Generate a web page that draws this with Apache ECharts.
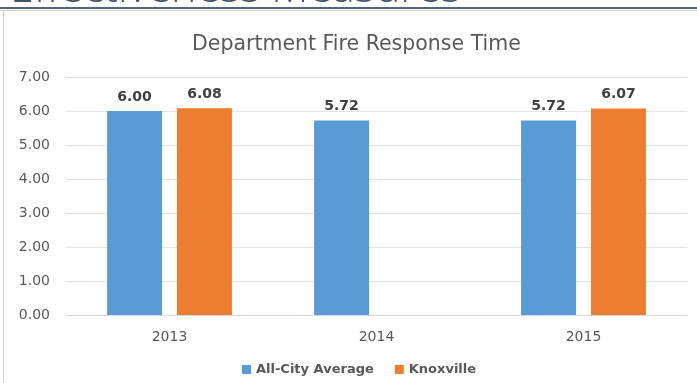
<!DOCTYPE html>
<html>
<head>
<meta charset="utf-8">
<script src="https://cdn.jsdelivr.net/npm/echarts@6/dist/echarts.min.js"></script>
<style>
html,body{margin:0;padding:0;background:#fff;}
#chart{width:697px;height:383px;}
</style>
</head>
<body>
<div id="chart"></div>
<script>
const categories = ['2013', '2014', '2015'];
const allCityAverage = [6.00, 5.72, 5.72];
const knoxville = [6.08, null, 6.07];
const yTicks = { min: 0, max: 7, interval: 1 };
const chartTitle = 'Department Fire Response Time';
const pageHeading = 'Effectiveness Measures';

const FONT = '"DejaVu Sans", sans-serif';
const chart = echarts.init(document.getElementById('chart'), null, { renderer: 'canvas' });

const labelStyle = {
  show: true,
  position: 'top',
  distance: 7,
  fontFamily: FONT,
  fontWeight: 'bold',
  fontSize: 14,
  color: '#404040',
  formatter: p => p.value == null ? '' : Number(p.value).toFixed(2)
};

chart.setOption({
  backgroundColor: '#ffffff',
  animation: false,
  title: {
    text: chartTitle,
    left: 187,
    top: 29,
    textStyle: { fontFamily: FONT, fontWeight: 'normal', fontSize: 20.5, color: '#595959' }
  },
  legend: {
    bottom: 2,
    left: 237,
    itemWidth: 9,
    itemHeight: 9,
    itemGap: 21,
    icon: 'rect',
    textStyle: { fontFamily: FONT, fontWeight: 'bold', fontSize: 13, color: '#595959' },
    data: ['All-City Average', 'Knoxville']
  },
  grid: { left: 66, right: 10, top: 77, bottom: 68, containLabel: false },
  xAxis: {
    type: 'category',
    data: categories,
    axisLine: { lineStyle: { color: '#d9d9d9' } },
    axisTick: { show: false },
    axisLabel: { fontFamily: FONT, fontSize: 14, color: '#595959', margin: 15 }
  },
  yAxis: {
    type: 'value',
    min: yTicks.min,
    max: yTicks.max,
    interval: yTicks.interval,
    axisLine: { show: false },
    axisTick: { show: false },
    splitLine: { lineStyle: { color: '#e3e3e3' } },
    axisLabel: { fontFamily: FONT, fontSize: 14, color: '#595959', margin: 16,
      formatter: v => v.toFixed(2) }
  },
  series: [
    { name: 'All-City Average', type: 'bar', data: allCityAverage, barWidth: 55, barGap: '27%',
      itemStyle: { color: '#5b9bd5' }, label: labelStyle },
    { name: 'Knoxville', type: 'bar', data: knoxville, barWidth: 55,
      itemStyle: { color: '#ed7d31' }, label: labelStyle }
  ],
  graphic: [
    { type: 'text', x: 10, y: 11, silent: true,
      style: { text: pageHeading, verticalAlign: 'bottom', align: 'left',
        font: '300 43px "Open Sans", sans-serif', fill: '#44546a' } },
    { type: 'rect', shape: { x: 0, y: 7, width: 697, height: 2 }, style: { fill: '#56667f' } },
    { type: 'rect', shape: { x: 0, y: 10, width: 697, height: 1 }, style: { fill: '#d0d0d0' } },
    { type: 'rect', shape: { x: 3, y: 11, width: 1, height: 372 }, style: { fill: '#d0d0d0' } }
  ]
});
</script>
</body>
</html>
